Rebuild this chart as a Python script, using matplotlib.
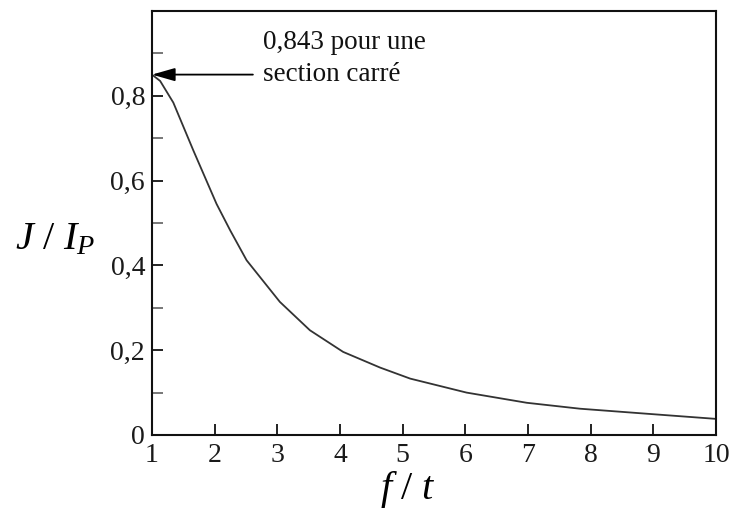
import matplotlib
matplotlib.use("Agg")
import matplotlib.pyplot as plt

# Data
ratio_ft = [1.0, 1.13, 1.34, 1.66, 2.03, 2.25, 2.51, 3.04, 3.52, 4.05, 4.64, 5.12, 6.02, 6.98, 7.83, 9.0, 10.0]
j_over_ip = [0.85, 0.835, 0.784, 0.671, 0.545, 0.482, 0.412, 0.314, 0.247, 0.196, 0.159, 0.133, 0.10, 0.076, 0.062, 0.049, 0.038]

x_ticks = [1, 2, 3, 4, 5, 6, 7, 8, 9, 10]
x_ticklabels = ["1", "2", "3", "4", "5", "6", "7", "8", "9", "10"]
y_ticks = [0.0, 0.2, 0.4, 0.6, 0.8]
y_ticklabels = ["0", "0,2", "0,4", "0,6", "0,8"]
y_minor = [0.1, 0.3, 0.5, 0.7, 0.9]

square_value = 0.85
annot_text = "0,843 pour une\nsection carré"

plt.rcParams["font.family"] = ["Liberation Serif", "DejaVu Serif"]
plt.rcParams["mathtext.fontset"] = "custom"
plt.rcParams["mathtext.rm"] = "Liberation Serif"
plt.rcParams["mathtext.it"] = "Liberation Serif:italic"

fig = plt.figure(figsize=(7.41, 5.12), dpi=100)
ax = fig.add_axes([152 / 741, 77 / 512, (716 - 152) / 741, (435 - 11) / 512])

ax.plot(ratio_ft, j_over_ip, color="#333333", lw=1.3)

ax.set_xlim(1, 10)
ax.set_ylim(0, 1.0)

ax.set_xticks(x_ticks)
ax.set_xticklabels(x_ticklabels)
ax.set_yticks(y_ticks)
ax.set_yticklabels(y_ticklabels)
ax.set_yticks(y_minor, minor=True)

ax.tick_params(axis="both", which="both", direction="in", length=8, width=1.4,
               color="#222222", labelsize=20, labelcolor="#1a1a1a")
ax.tick_params(axis="y", which="minor", color="#777777")
ax.tick_params(axis="x", pad=6)
ax.tick_params(axis="y", pad=5)

for s in ax.spines.values():
    s.set_linewidth(1.5)
    s.set_color("#111111")

ax.annotate("", xy=(1.0, square_value), xytext=(2.61, square_value),
            arrowprops=dict(arrowstyle="-|>,head_length=1.4,head_width=0.4",
                            mutation_scale=10, color="black", lw=1.3,
                            shrinkA=0, shrinkB=0))
ax.text(2.77, 0.955, annot_text, fontsize=19.5, va="top", ha="left",
        linespacing=1.35, color="#111111")

fig.text(55 / 741, 1 - 240 / 512, r"$J\ /\ I_P$", fontsize=29, ha="center", va="center")
fig.text(408 / 741, 1 - 490 / 512, r"$f\ /\ t$", fontsize=29, ha="center", va="center")

fig.savefig("out.png", dpi=100)
